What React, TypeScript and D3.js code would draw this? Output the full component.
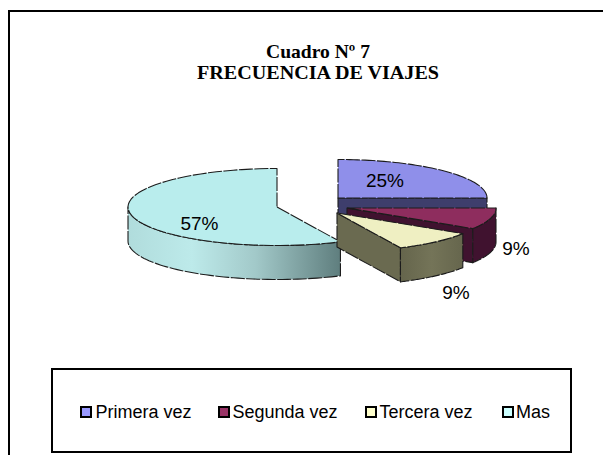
import React from "react";
import * as d3 from "d3";

const categories = ["Primera vez", "Segunda vez", "Tercera vez", "Mas"];
const values = [25, 9, 9, 57];
const labels = ["25%", "9%", "9%", "57%"];
const titleLines = ["Cuadro Nº 7", "FRECUENCIA DE VIAJES"];
const topColors = ["#8f8fea", "#8e2d5e", "#efefc2", "#b9eded"];
const legendColors = ["#9999ff", "#993366", "#ffffcc", "#ccffff"];
const sideColors = ["#3e3e6c", "#40122f", "#6a6a50", "#b9eded"];

const RX = 149, RY = 38.5, DEPTH = 34;
const centers: [number, number][] = [[338, 198], [347, 208], [337, 213], [277, 207]];
const labelPos: [number, number][] = [[385, 187], [516, 255], [456, 299], [199.5, 230]];
const titleWidths = [104, 242];
const titleBase = [58, 79];
const legendSwatchX = [81, 219, 366, 503];
const legendTextX = [95.5, 232.5, 379.5, 516];

const pt = (c: [number, number], a: number, dy = 0): [number, number] => [
  c[0] + RX * Math.sin(a),
  c[1] - RY * Math.cos(a) + dy,
];
const arcPts = (c: [number, number], a0: number, a1: number, dy = 0) =>
  d3.range(0, 61).map((i) => pt(c, a0 + ((a1 - a0) * i) / 60, dy));
const line = d3.line();

const topPath = (c: [number, number], a0: number, a1: number) =>
  line([c, ...arcPts(c, a0, a1)]) + "Z";
const wallPath = (c: [number, number], a0: number, a1: number) =>
  line([...arcPts(c, a0, a1), ...arcPts(c, a1, a0, DEPTH)]) + "Z";
const facePath = (c: [number, number], a: number) => {
  const p = pt(c, a);
  return line([c, p, [p[0], p[1] + DEPTH], [c[0], c[1] + DEPTH]]) + "Z";
};

const OUTLINE = { stroke: "#1c1c1c", strokeWidth: 1.1, strokeDasharray: "14 1.5", strokeLinejoin: "round" as const };
const arcs = d3.pie<number>().sort(null)(values);

export default function App() {
  const [a, b, c, m] = arcs;
  const mWallEnd = (3 * Math.PI) / 2;
  return (
    <svg width={603} height={455} style={{ position: "absolute", left: 0, top: 0, background: "#fff" }}>
      <defs>
        <linearGradient id="masSide" x1="0" x2="1" y1="0" y2="0">
          <stop offset="0" stopColor="#b0dcdc" />
          <stop offset="0.3" stopColor="#bdeaea" />
          <stop offset="0.6" stopColor="#a2c9c9" />
          <stop offset="1" stopColor="#5f7e7e" />
        </linearGradient>
        <linearGradient id="terSide" x1="0" x2="1" y1="0" y2="0">
          <stop offset="0" stopColor="#65654c" />
          <stop offset="0.5" stopColor="#747458" />
          <stop offset="1" stopColor="#66664d" />
        </linearGradient>
      </defs>
      <path d={line([[9, 455], [9, 11], [603, 11]]) as string} fill="none" stroke="#000" strokeWidth={2} />
      <g fontFamily="'Liberation Serif', serif" fontWeight="bold" fontSize={19} textAnchor="middle" fill="#000">
        {titleLines.map((t, i) => (
          <text key={t} x={318} y={titleBase[i]} textLength={titleWidths[i]} lengthAdjust="spacingAndGlyphs">{t}</text>
        ))}
      </g>

      {/* Primera vez */}
      <path d={facePath(centers[0], a.endAngle)} fill={sideColors[0]} {...OUTLINE} />
      <path d={topPath(centers[0], a.startAngle, a.endAngle)} fill={topColors[0]} {...OUTLINE} />

      {/* Segunda vez */}
      <path d={facePath(centers[1], b.endAngle)} fill={sideColors[1]} {...OUTLINE} />
      <path d={wallPath(centers[1], b.startAngle, b.endAngle)} fill={sideColors[1]} {...OUTLINE} />
      <path d={topPath(centers[1], b.startAngle, b.endAngle)} fill={topColors[1]} {...OUTLINE} />

      {/* Mas */}
      <path d={wallPath(centers[3], m.startAngle, mWallEnd)} fill="url(#masSide)" {...OUTLINE} />
      <path d={topPath(centers[3], m.startAngle, m.endAngle)} fill={topColors[3]} {...OUTLINE} />

      {/* Tercera vez */}
      <path d={facePath(centers[2], c.endAngle)} fill={sideColors[2]} {...OUTLINE} />
      <path d={wallPath(centers[2], c.startAngle, c.endAngle)} fill="url(#terSide)" {...OUTLINE} />
      <path d={topPath(centers[2], c.startAngle, c.endAngle)} fill={topColors[2]} {...OUTLINE} />

      <g fontFamily="'Liberation Sans', sans-serif" fontSize={19} textAnchor="middle" fill="#000">
        {labels.map((l, i) => (
          <text key={i} x={labelPos[i][0]} y={labelPos[i][1]}>{l}</text>
        ))}
      </g>

      <rect x={52} y={369} width={519} height={83} fill="#fff" stroke="#000" strokeWidth={2} />
      <g fontFamily="'Liberation Sans', sans-serif" fontSize={18} fill="#000">
        {categories.map((t, i) => (
          <g key={t}>
            <rect x={legendSwatchX[i]} y={407} width={10} height={10} fill={legendColors[i]} stroke="#000" strokeWidth={2} />
            <text x={legendTextX[i]} y={418}>{t}</text>
          </g>
        ))}
      </g>
    </svg>
  );
}
